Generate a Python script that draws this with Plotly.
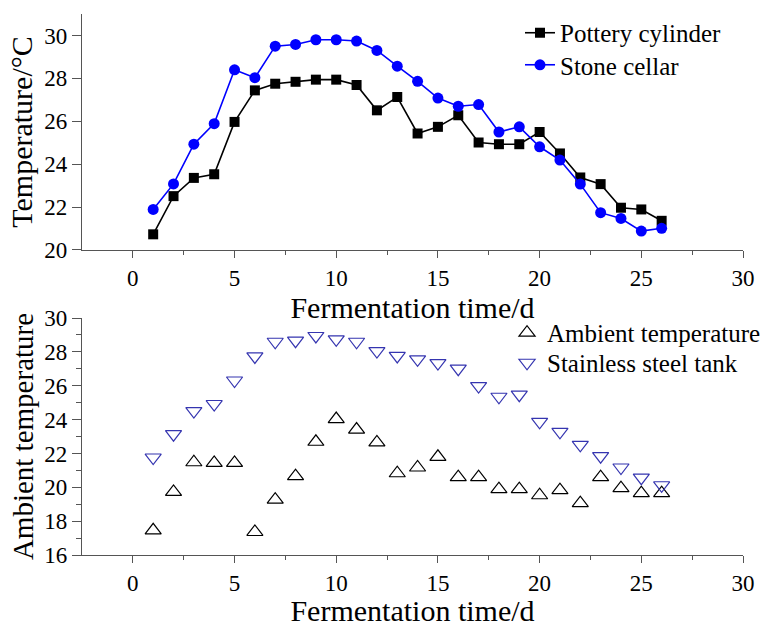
import plotly.graph_objects as go

days = list(range(1, 27))

pottery_cylinder = [20.73, 22.51, 23.36, 23.53, 25.97, 27.44, 27.75, 27.84, 27.94, 27.94,
                    27.69, 26.51, 27.13, 25.43, 25.74, 26.28, 25.01, 24.93, 24.93, 25.50,
                    24.50, 23.38, 23.07, 21.97, 21.89, 21.36]
stone_cellar = [21.89, 23.08, 24.93, 25.89, 28.40, 28.03, 29.50, 29.58, 29.80, 29.80,
                29.74, 29.30, 28.57, 27.86, 27.08, 26.70, 26.78, 25.50, 25.74, 24.81,
                24.19, 23.07, 21.74, 21.47, 20.88, 21.01]
ambient = [17.46, 19.73, 21.48, 21.44, 21.44, 17.36, 19.27, 20.66, 22.69, 24.03,
           23.41, 22.65, 20.83, 21.17, 21.80, 20.60, 20.60, 19.89, 19.89, 19.53,
           19.83, 19.06, 20.60, 19.95, 19.65, 19.65]
stainless_steel = [21.76, 23.14, 24.50, 24.92, 26.31, 27.73, 28.60, 28.66, 28.94, 28.74,
                   28.60, 28.05, 27.76, 27.56, 27.34, 27.01, 25.98, 25.35, 25.47, 23.87,
                   23.28, 22.51, 21.84, 21.17, 20.57, 20.12]

FONT = "Liberation Serif"
AX = "#555555"
TICK = 23
TITLE = 30
LEG = 25

fig = go.Figure()
fig.add_trace(go.Scatter(x=days, y=pottery_cylinder, mode="lines+markers", name="Pottery cylinder",
                         line=dict(color="black", width=1.6),
                         marker=dict(symbol="square", size=10, color="black"),
                         xaxis="x", yaxis="y", legend="legend"))
fig.add_trace(go.Scatter(x=days, y=stone_cellar, mode="lines+markers", name="Stone cellar",
                         line=dict(color="#0000FF", width=1.6),
                         marker=dict(symbol="circle", size=11, color="#0000FF"),
                         xaxis="x", yaxis="y", legend="legend2"))
fig.add_trace(go.Scatter(x=days, y=ambient, mode="markers", name="Ambient temperature",
                         marker=dict(symbol="triangle-up-open", size=14, color="black",
                                     line=dict(width=1.2)),
                         xaxis="x2", yaxis="y2", legend="legend3"))
fig.add_trace(go.Scatter(x=days, y=stainless_steel, mode="markers", name="Stainless steel tank",
                         marker=dict(symbol="triangle-down-open", size=14, color="#3535B0",
                                     line=dict(width=1.2)),
                         xaxis="x2", yaxis="y2", legend="legend4"))

common_x = dict(range=[-2.5, 30], tickvals=[0, 5, 10, 15, 20, 25, 30], showline=True,
                linecolor=AX, linewidth=1.2, ticks="outside", ticklen=7, tickcolor=AX,
                tickwidth=1.2, showgrid=False, zeroline=False, automargin=False,
                tickfont=dict(family=FONT, size=TICK, color="black"),
                minor=dict(tickvals=[2.5, 7.5, 12.5, 17.5, 22.5, 27.5], ticks="outside",
                           ticklen=4, tickcolor=AX, tickwidth=1.2, showgrid=False))
common_y = dict(showline=True, linecolor=AX, linewidth=1.2, ticks="outside", ticklen=9,
                tickcolor=AX, tickwidth=1.2, showgrid=False, zeroline=False, automargin=False,
                tickfont=dict(family=FONT, size=TICK, color="black"))

def leg(x, y):
    return dict(x=x, y=y, xanchor="left", yanchor="middle", bgcolor="rgba(0,0,0,0)",
                font=dict(family=FONT, size=LEG), borderwidth=0)

fig.update_layout(
    width=762, height=627,
    margin=dict(l=82, r=19, t=14, b=72, autoexpand=False),
    paper_bgcolor="white", plot_bgcolor="white",
    font=dict(family=FONT, size=TICK, color="black"),
    xaxis=dict(common_x, domain=[0, 1], anchor="y",
               title=dict(text="Fermentation time/d", font=dict(family=FONT, size=TITLE), standoff=0)),
    yaxis=dict(common_y, domain=[0.5638, 1.0], anchor="x", range=[20, 31],
               tickvals=[20, 22, 24, 26, 28, 30],
               title=dict(text="Temperature/°C", font=dict(family=FONT, size=TITLE), standoff=2)),
    xaxis2=dict(common_x, domain=[0, 1], anchor="y2",
                title=dict(text="Fermentation time/d", font=dict(family=FONT, size=TITLE), standoff=12)),
    yaxis2=dict(common_y, domain=[0, 0.438], anchor="x2", range=[16, 30],
                tickvals=[16, 18, 20, 22, 24, 26, 28, 30],
                minor=dict(tickvals=[17, 19, 21, 23, 25, 27, 29], ticks="outside", ticklen=5,
                           tickcolor=AX, tickwidth=1.2, showgrid=False),
                title=dict(text="Ambient temperature", font=dict(family=FONT, size=29), standoff=2)),
    legend=leg(0.6626, 0.9649),
    legend2=leg(0.6626, 0.9057),
    legend3=leg(0.643, 0.4104),
    legend4=leg(0.643, 0.3549),
    showlegend=True,
)

fig.write_html("out.html")
